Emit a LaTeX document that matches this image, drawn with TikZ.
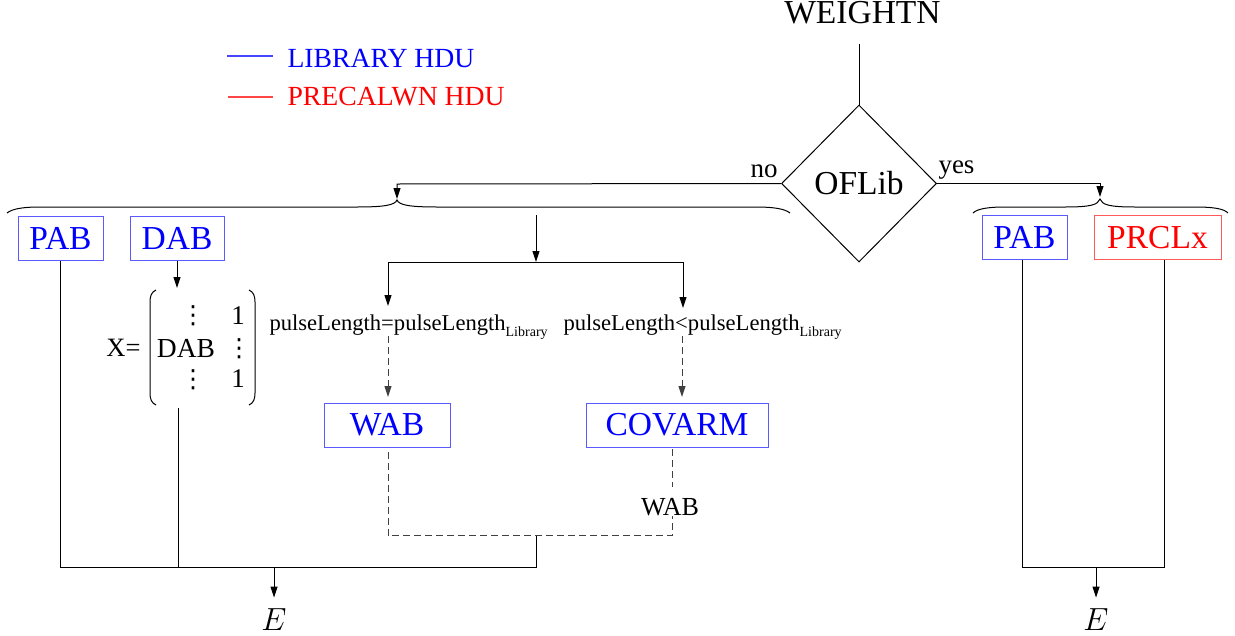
\RequirePackage{fix-cm}
\documentclass[tikz,border=0pt]{standalone}
\usepackage{fontspec}
\setmainfont{Liberation Serif}
\newfontfamily\dejavu{DejaVu Sans}
\usetikzlibrary{arrows.meta,shapes.geometric}
\definecolor{bbord}{RGB}{90,90,255}
\definecolor{rbord}{RGB}{255,90,90}
\definecolor{bleg}{RGB}{70,70,255}
\definecolor{rleg}{RGB}{255,70,70}
\newcommand\fs[1]{\fontsize{#1}{#1}\selectfont}
\newcommand\vdts{{\dejavu\fontsize{25}{25}\selectfont ⋮}}
\begin{document}
\begin{tikzpicture}[x=1pt,y=1pt,line width=1pt,
  >={Triangle[length=11pt,width=7pt]},
  hbox/.style={draw=bbord,text=blue,line width=1pt,minimum height=44pt,inner sep=0pt,font=\fs{33.5}},
  rbox/.style={hbox,draw=rbord,text=red},
  txt/.style={inner sep=0pt},
  dsh/.style={dash pattern=on 7pt off 4pt,draw=black!75}]
\useasboundingbox (0,0) rectangle (1235,-635);

% legend
\coordinate (lb1) at (227,-56); \coordinate (lb2) at (273,-56);
\coordinate (lr1) at (228,-97); \coordinate (lr2) at (273,-97);
\draw[bleg,line width=1.1pt] (lb1) -- (lb2);
\draw[rleg,line width=1.1pt] (lr1) -- (lr2);
\node[txt,font=\fs{27.7},text=blue,anchor=base west] (leglib) at (287,-67) {LIBRARY HDU};
\node[txt,font=\fs{27.7},text=red,anchor=base west] (legpre) at (287,-105) {PRECALWN HDU};

% top decision
\node[txt,font=\fs{33.5}] (weight) at (862.5,-13) {WEIGHTN};
\node[diamond,draw,minimum width=155pt,minimum height=157pt,inner sep=0pt,font=\fs{33.5}] (dia) at (859,-183.5) {OFLib};
\draw[shorten <=19pt] (weight.south -| dia.north) -- (dia.north);
\node[txt,font=\fs{27},anchor=base east] (no) at (778,-177) {no};
\node[txt,font=\fs{27},anchor=base west] (yes) at (938,-173) {yes};

\coordinate (nocorner) at (397,-184);
\coordinate (lbtip) at (397,-199);
\draw[->] (dia.west) -- (nocorner) -- (lbtip);
\coordinate (yescorner) at (1100,-183.5);
\coordinate (rbtip) at (1100,-197);
\draw[->] (dia.east) -- (yescorner) -- (rbtip);

% braces
\draw (7,-213) .. controls (12,-209) and (22,-207) .. (40,-207) -- (357,-207)
  .. controls (385,-207) and (395,-205) .. (397,-200)
  .. controls (399,-205) and (409,-207) .. (437,-207) -- (755,-207)
  .. controls (775,-207) and (785,-209) .. (790,-213);
\draw (973,-213) .. controls (977,-209) and (987,-207) .. (1005,-207) -- (1065,-207)
  .. controls (1090,-207) and (1098,-205) .. (1100,-199)
  .. controls (1102,-205) and (1110,-207) .. (1135,-207) -- (1195,-207)
  .. controls (1215,-207) and (1224,-209) .. (1228,-213);

% boxes
\node[hbox,minimum width=85pt] (pab1) at (60.5,-238) {PAB};
\node[hbox,minimum width=94pt] (dab) at (177,-238) {DAB};
\node[hbox,minimum width=85pt] (pab2) at (1024.5,-237.5) {PAB};
\node[rbox,minimum width=127pt] (prclx) at (1157.5,-237.5) {PRCLx};
\node[hbox,minimum width=126pt] (wab) at (387,-425) {WAB};
\node[hbox,minimum width=182pt] (covarm) at (677,-425) {COVARM};

% matrix
\node[txt,font=\fs{26.5}] (xeq) at (123.5,-348) {X=};
\node[txt] (m11) at (193,-316) {\vdts};
\node[txt,font=\fs{27}] (m12) at (238,-316) {1};
\node[txt,font=\fs{27.5}] (m21) at (186,-348) {DAB};
\node[txt] (m22) at (239,-349) {\vdts};
\node[txt] (m31) at (193,-380) {\vdts};
\node[txt,font=\fs{27}] (m32) at (238,-379) {1};
\draw (156,-290) .. controls (151.5,-292) and (150,-296) .. (150,-302) -- (150,-393)
  .. controls (150,-399) and (151.5,-403) .. (156,-405);
\draw (249,-290) .. controls (253.5,-292) and (255,-296) .. (255,-302) -- (255,-393)
  .. controls (255,-399) and (253.5,-403) .. (249,-405);
\coordinate (mattop) at (177,-288);
\coordinate (matbot) at (178,-408);
\draw[->] (dab.south) -- (mattop);

% middle branch
\coordinate (mtop) at (536,-215);
\coordinate (mh) at (536,-262);
\draw[->] (mtop) -- (mh);
\coordinate (hl) at (388,-262);
\coordinate (hr) at (683,-262);
\coordinate (l1tip) at (388,-306);
\coordinate (l2tip) at (683,-308);
\draw[->] (hr) -- (hl) -- (l1tip);
\draw[->] (hr) -- (l2tip);
\node[txt,font=\fs{22.6},anchor=base west] (pl1) at (269,-330) {pulseLength=pulseLength\raisebox{-6pt}{\fs{14}Library}};
\node[txt,font=\fs{22.6},anchor=base west] (pl2) at (563,-330) {pulseLength<pulseLength\raisebox{-6pt}{\fs{14}Library}};
\coordinate (d1s) at (388,-336);
\coordinate (d2s) at (682,-336);
\draw[dsh,->,shorten >=5.5pt] (d1s) -- (wab.north -| d1s);
\draw[dsh,->,shorten >=5.5pt] (d2s) -- (covarm.north -| d2s);

% dashed merge
\node[txt,font=\fs{26}] (wablab) at (670,-507) {WAB};
\coordinate (dl) at (388,-535.5);
\coordinate (dr) at (672,-535.5);
\draw[dsh,shorten <=1.5pt,shorten >=11pt] (covarm.south -| dr) -- (wablab.north -| dr);
\draw[dsh,shorten <=4pt] (wab.south -| dl) -- (dl) -- (dr) -- (wablab.south -| dr);

% bottom left
\coordinate (bl) at (61,-567);
\coordinate (br) at (536,-567);
\coordinate (junc) at (536,-535.5);
\draw (pab1.south) -- (pab1.south |- bl) -- (br) -- (junc);
\draw (matbot) -- (matbot |- bl);
\coordinate (eaL) at (274,-567);
\node[inner sep=0pt,font=\fs{32}] (e1) at (274,-620) {$E$};
\draw[->,shorten >=11pt] (eaL) -- (e1.north);

% bottom right
\coordinate (rbl) at (1022,-567);
\coordinate (rbr) at (1164,-567);
\draw (prclx.south -| rbr) -- (rbr) -- (rbl) -- (pab2.south -| rbl);
\coordinate (eaR) at (1096,-567);
\node[inner sep=0pt,font=\fs{32}] (e2) at (1096,-620) {$E$};
\draw[->,shorten >=11pt] (eaR) -- (e2.north);
\end{tikzpicture}
\end{document}
